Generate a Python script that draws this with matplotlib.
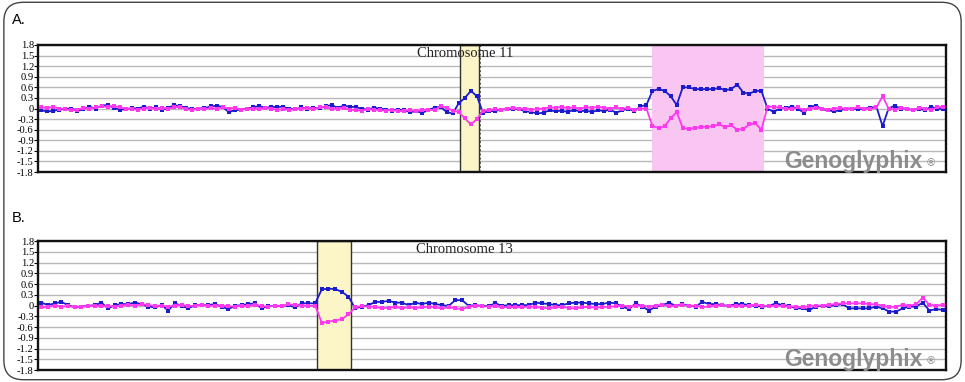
import numpy as np
import matplotlib
matplotlib.use("Agg")
import matplotlib.pyplot as plt
from matplotlib.patches import FancyBboxPatch

# log2 ratios, probe order along the chromosome
blue_a = [-0.05, -0.08, -0.07, -0.03, -0.01, 0.0, -0.06, -0.02, 0.05, 0.0,
          0.08, 0.1, 0.02, -0.03, -0.02, 0.01, 0.0, 0.05, 0.0, 0.03,
          -0.03, 0.02, 0.09, 0.07, 0.02, -0.02, 0.0, 0.01, 0.06, 0.08,
          0.04, -0.1, -0.05, -0.03, 0.0, 0.03, 0.07, 0.02, 0.04, 0.05,
          0.04, 0.0, -0.02, 0.03, 0.0, 0.02, 0.01, 0.06, 0.1, 0.02,
          0.08, 0.05, 0.04, -0.01, -0.03, 0.02, 0.0, -0.03, -0.06, -0.03,
          -0.05, -0.1, -0.08, -0.12, -0.04, 0.02, 0.05, -0.1, -0.14, 0.15,
          0.3, 0.5, 0.35, -0.12, -0.08, -0.07, -0.03, -0.02, 0.0, -0.02,
          -0.08, -0.1, -0.14, -0.12, -0.05, -0.08, -0.06, -0.1, -0.04, -0.08,
          -0.06, -0.1, -0.05, -0.07, -0.03, -0.12, -0.05, 0.0, -0.08, 0.06,
          0.1, 0.5, 0.55, 0.5, 0.35, 0.1, 0.6, 0.6, 0.55, 0.55,
          0.55, 0.55, 0.58, 0.52, 0.55, 0.68, 0.45, 0.42, 0.5, 0.5,
          0.0, -0.1, 0.0, 0.02, 0.05, 0.0, -0.12, 0.05, 0.08, -0.02,
          -0.05, -0.08, -0.05, 0.0, 0.0, -0.02, 0.0, 0.02, 0.05, -0.5,
          0.0, 0.08, 0.0, 0.0, -0.05, 0.0, -0.05, 0.05, 0.0, -0.02]
magenta_a = [0.03, 0.02, 0.04, 0.0, -0.02, -0.05, -0.04, 0.02, 0.0, 0.03,
             0.06, 0.05, 0.07, 0.03, 0.0, -0.02, -0.03, 0.0, 0.02, -0.01,
             0.02, 0.0, 0.03, 0.05, -0.02, -0.04, 0.0, -0.02, 0.02, -0.01,
             0.03, 0.0, 0.02, -0.03, -0.01, 0.0, -0.02, 0.02, 0.0, -0.04,
             -0.02, -0.04, -0.02, 0.0, 0.01, -0.02, 0.03, 0.05, -0.02, 0.0,
             0.02, -0.03, -0.05, -0.06, -0.02, -0.03, -0.05, -0.06, -0.04, -0.08,
             -0.06, -0.05, -0.07, -0.04, -0.03, -0.05, 0.07, 0.02, -0.06, -0.1,
             -0.28, -0.45, -0.3, -0.06, -0.05, -0.02, -0.04, 0.0, 0.02, -0.01,
             0.0, -0.03, -0.02, 0.0, 0.03, 0.02, 0.05, 0.01, 0.03, 0.0,
             0.04, 0.02, 0.05, 0.02, 0.0, 0.03, -0.01, 0.02, -0.04, 0.0,
             0.0, -0.5, -0.55, -0.5, -0.28, -0.1, -0.55, -0.58, -0.55, -0.53,
             -0.52, -0.5, -0.45, -0.52, -0.48, -0.6, -0.58, -0.45, -0.42, -0.6,
             0.05, 0.05, 0.03, 0.0, -0.02, 0.03, -0.05, 0.0, 0.02, 0.0,
             -0.03, 0.0, 0.02, -0.02, 0.0, 0.03, 0.0, -0.02, 0.03, 0.35,
             0.0, -0.03, 0.02, 0.0, -0.05, 0.02, 0.0, -0.04, 0.03, 0.05]

blue_b = [0.08, 0.01, 0.06, 0.1, 0.01, -0.05, -0.03, -0.01, 0.01, 0.08,
          -0.08, 0.01, 0.04, 0.04, 0.08, 0.04, -0.03, -0.05, 0.01, -0.14,
          0.06, -0.01, -0.08, 0.01, 0.01, 0.01, 0.04, -0.03, -0.1, -0.01,
          0.01, 0.04, 0.06, -0.08, -0.01, -0.01, -0.01, 0.01, -0.05, 0.06,
          0.06, 0.06,
          0.45, 0.47, 0.46, 0.38, 0.25,
          -0.08, -0.03, 0.01, 0.1, 0.1, 0.13, 0.08, 0.08, 0.01, 0.08,
          0.04, 0.08, 0.04, 0.01, -0.01, 0.15, 0.15, -0.01, 0.01, -0.01,
          -0.01, 0.06, -0.01, 0.01, 0.01, 0.01, 0.01, 0.08, 0.06, 0.04,
          0.01, 0.01, 0.06, 0.08, 0.08, 0.06, 0.04, 0.04, 0.08, 0.06,
          -0.03, -0.1, 0.06,
          -0.03, -0.14, -0.03, 0.01, 0.08, -0.01, 0.04, -0.01, -0.03, 0.1,
          0.04, 0.04, 0.01, -0.01, 0.04, 0.04, 0.01, -0.01, -0.03, -0.01,
          0.06, 0.01, -0.01, -0.08, -0.08, -0.13, -0.03, -0.01, -0.01, 0.01,
          0.04, -0.08, -0.08, -0.08, -0.08, -0.03, -0.08, -0.17, -0.17, -0.08,
          -0.03, -0.03, 0.08, -0.14, -0.1, -0.12]
magenta_b = [-0.05, -0.04, 0.0, -0.03, -0.02, -0.04, -0.03, -0.02, 0.0, -0.02,
             -0.01, -0.03, 0.0, 0.02, 0.0, 0.03, 0.02, -0.02, 0.0, -0.03,
             0.0, 0.02, -0.02, 0.0, 0.02, -0.01, 0.0, 0.0, -0.02, -0.03,
             0.0, -0.02, 0.02, -0.02, -0.03, 0.0, -0.02, 0.03, 0.02, 0.0,
             -0.02, 0.0,
             -0.48, -0.45, -0.42, -0.38, -0.25,
             -0.05, -0.02, -0.03, -0.04, -0.08, -0.06, -0.04, -0.08, -0.05, -0.07,
             -0.05, -0.03, -0.05, -0.08, -0.05, -0.08, -0.1, -0.04, 0.0, -0.02,
             -0.03, -0.01, -0.05, -0.05, -0.04, -0.05, -0.03, -0.04, -0.06, -0.08,
             -0.05, -0.04, -0.07, -0.08, -0.05, -0.04, -0.06, -0.04, -0.04, -0.02,
             0.0, -0.03, 0.0,
             0.0, -0.03, 0.0, 0.02, -0.02, 0.0, 0.02, -0.02, 0.0, -0.05,
             -0.02, 0.0, 0.01, -0.02, 0.0, -0.02, 0.0, 0.02, 0.0, -0.02,
             0.0, -0.02, -0.03, -0.03, -0.05, -0.02, 0.0, 0.0, 0.02, 0.04,
             0.06, 0.06, 0.06, 0.06, 0.04, 0.03, 0.0, -0.05, -0.03, 0.02,
             0.0, 0.03, 0.22, 0.02, 0.0, 0.02]

# highlighted regions, in probe index units
bands_a = [(69.2, 72.4, "gain"), (100.9, 119.5, "loss")]
bands_b = [(41.25, 46.3, "gain")]

yticks = [1.8, 1.5, 1.2, 0.9, 0.6, 0.3, 0, -0.3, -0.6, -0.9, -1.2, -1.5, -1.8]
ytick_labels = ["1.8", "1.5", "1.2", "0.9", "0.6", "0.3", "0",
                "-0.3", "-0.6", "-0.9", "-1.2", "-1.5", "-1.8"]

BLUE = "#1c1ccf"
MAGENTA = "#ff38f0"

fig = plt.figure(figsize=(9.65, 3.82), dpi=100)

# rounded frame round the whole figure
frame = FancyBboxPatch((0.004, 0.006), 0.992, 0.988, boxstyle="round,pad=0,rounding_size=0.02",
                       transform=fig.transFigure, fill=False, edgecolor="#444444", lw=1.0,
                       mutation_aspect=965 / 382)
fig.patches.append(frame)


def panel(rect, blue, magenta, bands, title, dotted_edge):
    ax = fig.add_axes(rect)
    n = len(blue)
    x = np.arange(n)
    ax.set_xlim(-0.5, n - 0.5)
    ax.set_ylim(-1.8, 1.8)
    for y in yticks:
        ax.axhline(y, color="#b8b8b8", lw=1.0, zorder=0)
    for s, e, kind in bands:
        if kind == "gain":
            ax.axvspan(s, e, facecolor="#fbf5c8", edgecolor="#333333", lw=1.0, zorder=1)
            if dotted_edge:
                ax.axvline(e + 0.15, color="#333333", lw=1.2, ls=(0, (1, 1.5)), zorder=1)
        else:
            ax.axvspan(s, e, facecolor="#f8c6f1", edgecolor="none", zorder=1)
    ax.plot(x, blue, color=BLUE, lw=1.3, marker="s", ms=3.2, mew=0, zorder=3)
    ax.plot(x, magenta, color=MAGENTA, lw=1.3, marker="s", ms=3.2, mew=0, zorder=3)
    ax.set_yticks(yticks)
    ax.set_yticklabels(ytick_labels, family="Liberation Serif", fontsize=7.6)
    ax.tick_params(axis="y", direction="out", length=3, width=0.8, pad=0)
    ax.set_xticks([])
    for sp in ax.spines.values():
        sp.set_linewidth(1.7)
        sp.set_color("#111111")
    ax.text(0.47, 0.985, title, transform=ax.transAxes, ha="center", va="top",
            family="Liberation Serif", fontsize=10.5, color="#222222", zorder=4)
    ax.text(0.974, 0.03, "Genoglyphix", transform=ax.transAxes, ha="right", va="baseline",
            family="Liberation Sans", fontweight="bold", fontsize=16.5, color="#8c8c8c", zorder=4)
    ax.text(0.977, 0.045, "®", transform=ax.transAxes, ha="left", va="baseline",
            family="DejaVu Sans", fontsize=7.5, color="#8c8c8c", zorder=4)
    return ax


panel([0.0394, 0.5497, 0.941, 0.3325], blue_a, magenta_a, bands_a, "Chromosome 11", True)
panel([0.0394, 0.0314, 0.941, 0.3377], blue_b, magenta_b, bands_b, "Chromosome 13", False)

fig.text(12 / 965, 1 - 20 / 382, "A.", family="Liberation Sans", fontsize=10.5, va="center")
fig.text(12 / 965, 1 - 218 / 382, "B.", family="Liberation Sans", fontsize=10.5, va="center")

fig.savefig("out.png", dpi=100)
